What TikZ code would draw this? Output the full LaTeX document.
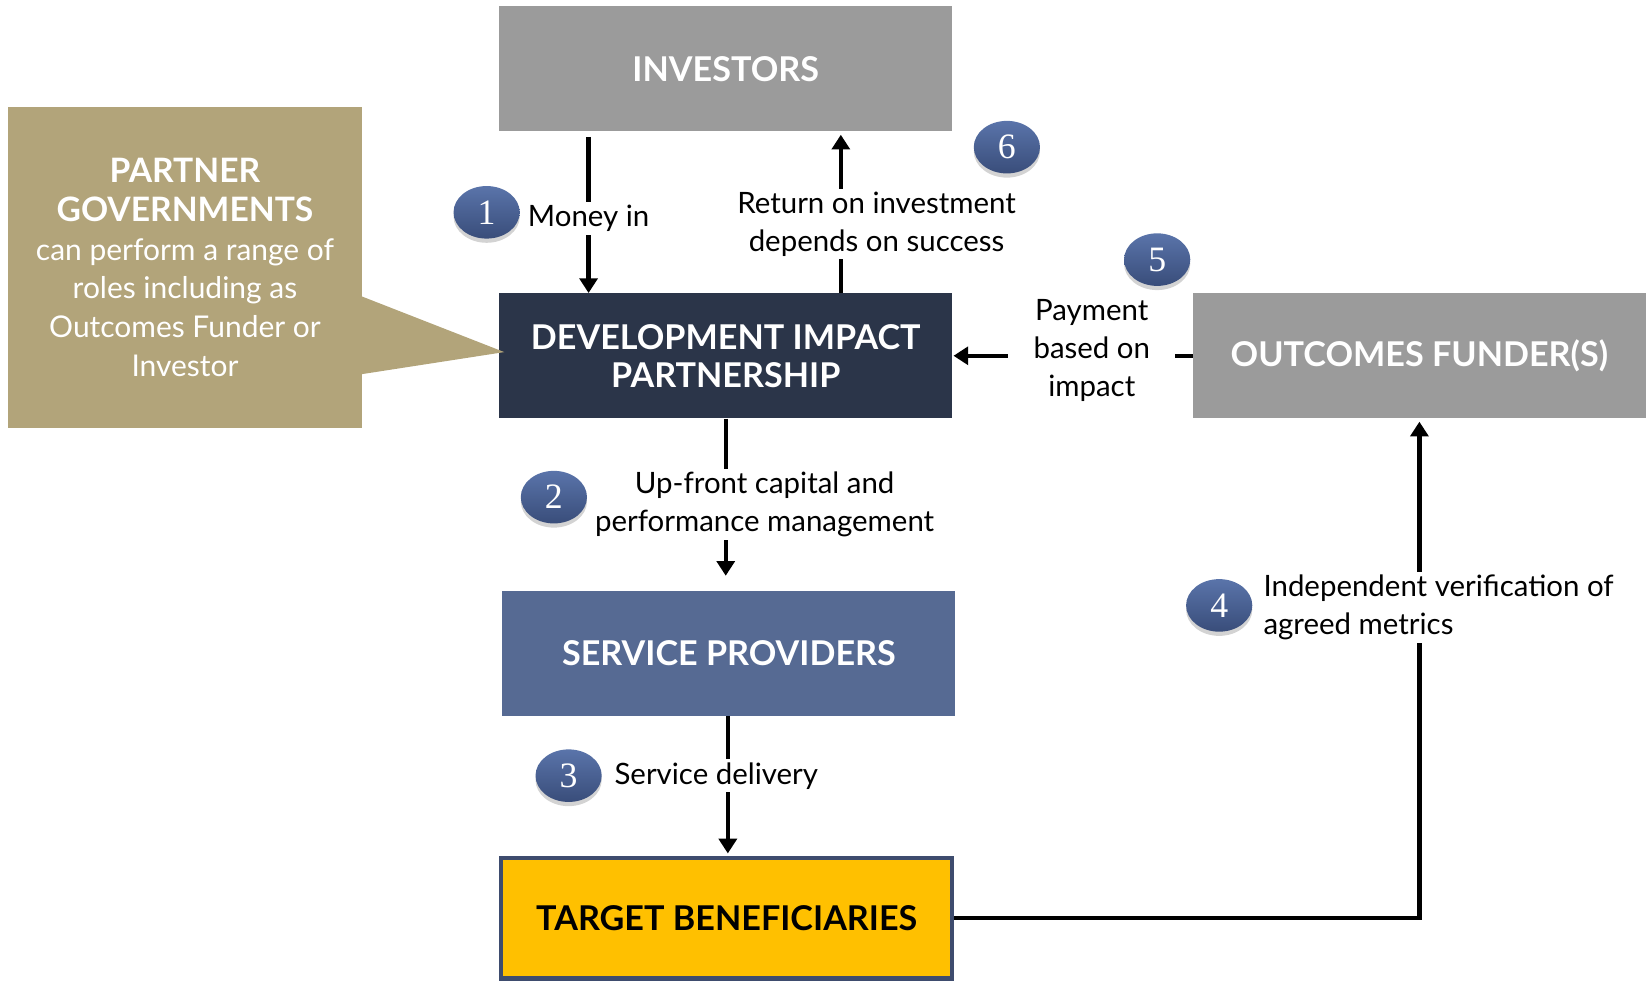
\documentclass[tikz,border=0pt]{standalone}
\usepackage{fontspec}
\setmainfont{Lato}
\newfontfamily\numfont{Liberation Serif}
\usepackage{xcolor}
\usepackage{tikz}
\usetikzlibrary{positioning,arrows.meta,shadows,shapes.geometric}

\definecolor{boxgray}{HTML}{9B9B9B}
\definecolor{dipnavy}{HTML}{2B3549}
\definecolor{provblue}{HTML}{566A93}
\definecolor{benyellow}{HTML}{FFC000}
\definecolor{benedge}{HTML}{3E4C6E}
\definecolor{partgold}{HTML}{B2A47A}
\definecolor{numtop}{HTML}{5A74AA}
\definecolor{numbot}{HTML}{394D7A}

\newcommand{\pgbold}[1]{{\fontsize{32}{37}\selectfont\bfseries #1}}

\begin{document}
\begin{tikzpicture}[x=1pt,y=-1pt,node distance=270pt,on grid,
    box/.style={rectangle,minimum width=431pt,minimum height=119pt,inner sep=0pt,align=center,text=white,font=\fontsize{32.5}{36}\selectfont\bfseries},
    flow/.style={line width=4pt,-{Triangle[length=14pt,width=17pt]}},
    lbl/.style={fill=white,inner sep=3pt,align=center,font=\fontsize{28}{36}\selectfont},
    num/.style={ellipse,minimum width=63pt,minimum height=50pt,inner sep=0pt,top color=numtop,bottom color=numbot,text=white,font=\numfont\fontsize{34}{34}\selectfont,drop shadow={opacity=0.35,shadow xshift=0pt,shadow yshift=-4pt}}]
    \useasboundingbox (0,0) rectangle (1568,935);

    % boxes
    \node[box,fill=dipnavy] (dip) at (690.5,338.5) {DEVELOPMENT IMPACT\\PARTNERSHIP};
    \node[box,fill=boxgray] (inv) [above=273pt of dip] {INVESTORS};
    \node[box,fill=provblue] (prov) [below=283pt of dip,xshift=3pt] {SERVICE PROVIDERS};
    \node[box,fill=benyellow,draw=benedge,line width=4pt,text=black,minimum width=429pt,minimum height=115pt] (ben) [below=252pt of prov,xshift=-2pt] {TARGET BENEFICIARIES};
    \node[box,fill=boxgray] (fund) [right=660pt of dip] {OUTCOMES FUNDER(S)};

    % callout
    \node[fill=partgold,minimum width=336pt,minimum height=305pt,inner sep=0pt,align=center,text=white,font=\fontsize{28.5}{37}\selectfont] (govt) at (176,254.5)
        {\pgbold{PARTNER}\\\pgbold{GOVERNMENTS}\\can perform a range of\\roles including as\\Outcomes Funder or\\Investor};
    \fill[partgold] ([yshift=-27.5pt]govt.east) -- ([xshift=5pt,yshift=3.5pt]dip.west) -- ([yshift=-101.5pt]govt.east) -- cycle;

    % flows
    \draw[flow,shorten <=5pt] ([xshift=-130.5pt]inv.south) -- node[lbl,yshift=-6pt] (moneyin) {Money in} ([xshift=-130.5pt]dip.north);
    \draw[flow,shorten >=3pt] ([xshift=109.5pt]dip.north) -- node[lbl,xshift=34pt,yshift=-11pt] (roi) {Return on investment\\depends on success} ([xshift=109.5pt]inv.south);
    \draw[flow,shorten >=14pt] (dip.south) -- node[lbl,xshift=37pt] (capital) {Up-front capital and\\performance management} (dip.south |- prov.north);
    \draw[flow,shorten >=2pt] ([xshift=-1pt]prov.south) -- node[lbl,pos=0.43,xshift=-11pt] (delivery) {Service delivery} ([xshift=-1pt]prov.south |- ben.north);
    \draw[flow,shorten >=1pt] (fund.west) -- node[lbl,pos=0.42,yshift=5pt,inner xsep=24pt] (payment) {Payment\\based on\\impact} (dip.east);
    \draw[flow,shorten >=3pt] (ben.east) -| (fund.south);
    \node[lbl,anchor=west,align=left] (verify) at (1199,578) {Independent verification of\\agreed metrics};

    % step numbers
    \node[num] (n1) at (463,202) {1};
    \node[num] (n2) at (527,473) {2};
    \node[num] (n3) at (541,738) {3};
    \node[num] (n4) at (1160,576) {4};
    \node[num] (n5) at (1101,247) {5};
    \node[num] (n6) at (958,140) {6};
\end{tikzpicture}
\end{document}
